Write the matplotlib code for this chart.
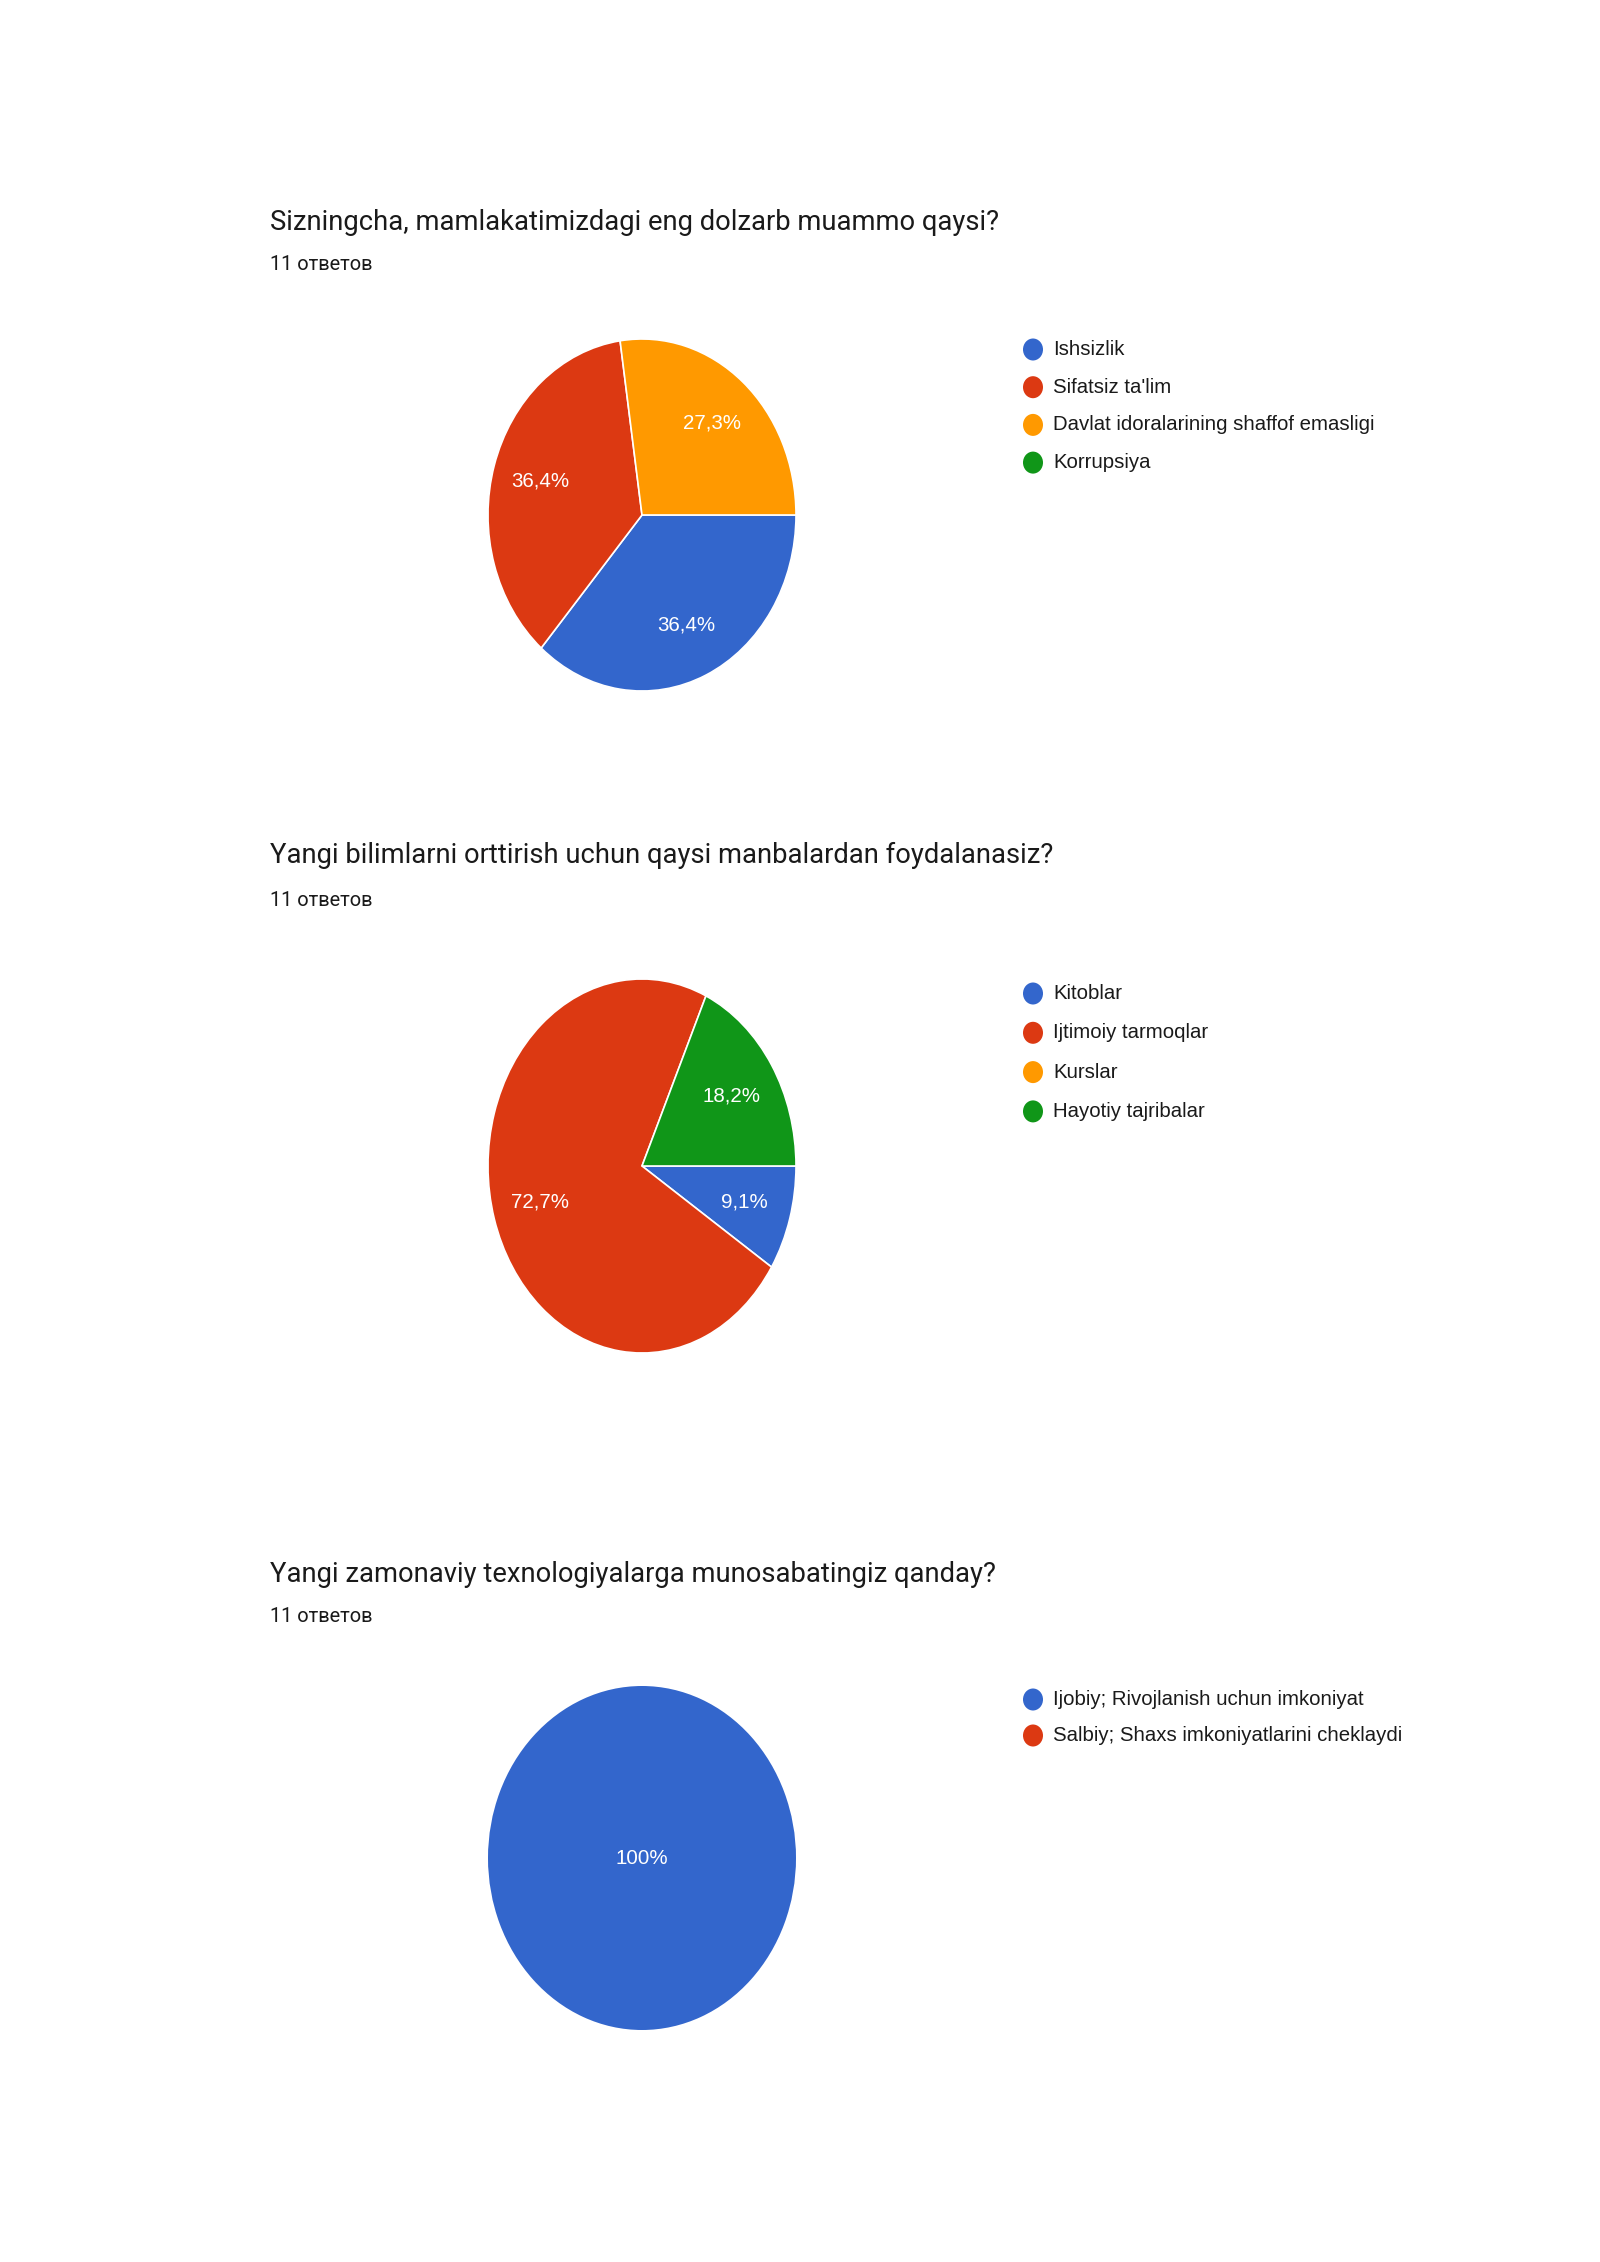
import matplotlib
matplotlib.use("Agg")
import matplotlib.pyplot as plt
from matplotlib.patches import Ellipse

W, H = 1600, 2262

# ---------------- data ----------------
titles = [
    "Sizningcha, mamlakatimizdagi eng dolzarb muammo qaysi?",
    "Yangi bilimlarni orttirish uchun qaysi manbalardan foydalanasiz?",
    "Yangi zamonaviy texnologiyalarga munosabatingiz qanday?",
]
responses_text = "11 ответов"

labels1 = ["Ishsizlik", "Sifatsiz ta'lim", "Davlat idoralarining shaffof emasligi", "Korrupsiya"]
counts1 = [4, 4, 3, 0]

labels2 = ["Kitoblar", "Ijtimoiy tarmoqlar", "Kurslar", "Hayotiy tajribalar"]
counts2 = [1, 8, 0, 2]

labels3 = ["Ijobiy; Rivojlanish uchun imkoniyat", "Salbiy; Shaxs imkoniyatlarini cheklaydi"]
counts3 = [11, 0]

colors = ["#3366CC", "#DC3912", "#FF9900", "#109618"]

# ---------------- layout (pixels) ----------------
panels = [
    dict(labels=labels1, counts=counts1, title_y=222, sub_y=264,
         cx=642, cy=515, rx=154, ry=176, leg_y=349.5, leg_dy=37.7, pctd=0.69),
    dict(labels=labels2, counts=counts2, title_y=855, sub_y=901,
         cx=642, cy=1166, rx=154, ry=187, leg_y=993.5, leg_dy=39.3, pctd=0.69),
    dict(labels=labels3, counts=counts3, title_y=1574, sub_y=1616,
         cx=642, cy=1858, rx=154, ry=172, leg_y=1699.5, leg_dy=36, pctd=0.0),
]

fig = plt.figure(figsize=(W / 100, H / 100), dpi=100)
fig.patch.set_facecolor("white")

# overlay axes in pixel coordinates for texts / legend
ov = fig.add_axes([0, 0, 1, 1])
ov.set_xlim(0, W)
ov.set_ylim(H, 0)
ov.axis("off")

title_x = 270
title_font = ["Roboto", "DejaVu Sans"]
body_font = ["Liberation Sans", "DejaVu Sans"]


def fmt_pct(p):
    if p < 1e-9:
        return ""
    if abs(p - 100) < 1e-6:
        return "100%"
    return f"{p:.1f}%".replace(".", ",")


for i, pnl in enumerate(panels):
    ov.text(title_x, pnl["title_y"], titles[i], fontsize=19.7, family=title_font,
            color="#1a1a1a", va="center", ha="left")
    ov.text(title_x, pnl["sub_y"], responses_text, fontsize=14.4, family=title_font,
            color="#1a1a1a", va="center", ha="left")

    cx, cy, rx, ry = pnl["cx"], pnl["cy"], pnl["rx"], pnl["ry"]
    ax = fig.add_axes([(cx - rx) / W, 1 - (cy + ry) / H, 2 * rx / W, 2 * ry / H])
    n = len(pnl["counts"])
    wedges, texts, autotexts = ax.pie(
        pnl["counts"], colors=colors[:n], startangle=0, counterclock=False,
        radius=1.0, autopct=fmt_pct, pctdistance=pnl["pctd"],
        wedgeprops=dict(edgecolor="white", linewidth=1.2),
        textprops=dict(color="white", fontsize=14.8, family=body_font),
    )
    for w, c in zip(wedges, pnl["counts"]):
        if c == 0:
            w.set_visible(False)
    if max(pnl["counts"]) == sum(pnl["counts"]):
        for w in wedges:
            w.set_linewidth(0)
    ax.set_aspect("auto")
    ax.set_xlim(-1, 1)
    ax.set_ylim(-1, 1)
    ax.axis("off")

    # legend
    for j, lab in enumerate(pnl["labels"]):
        y = pnl["leg_y"] + j * pnl["leg_dy"]
        ov.add_patch(Ellipse((1033, y), 20, 22, color=colors[j], lw=0))
        ov.text(1053, y, lab, fontsize=14.7, family=body_font, color="#1a1a1a",
                va="center", ha="left")

fig.savefig("out.png", dpi=100, facecolor="white")
